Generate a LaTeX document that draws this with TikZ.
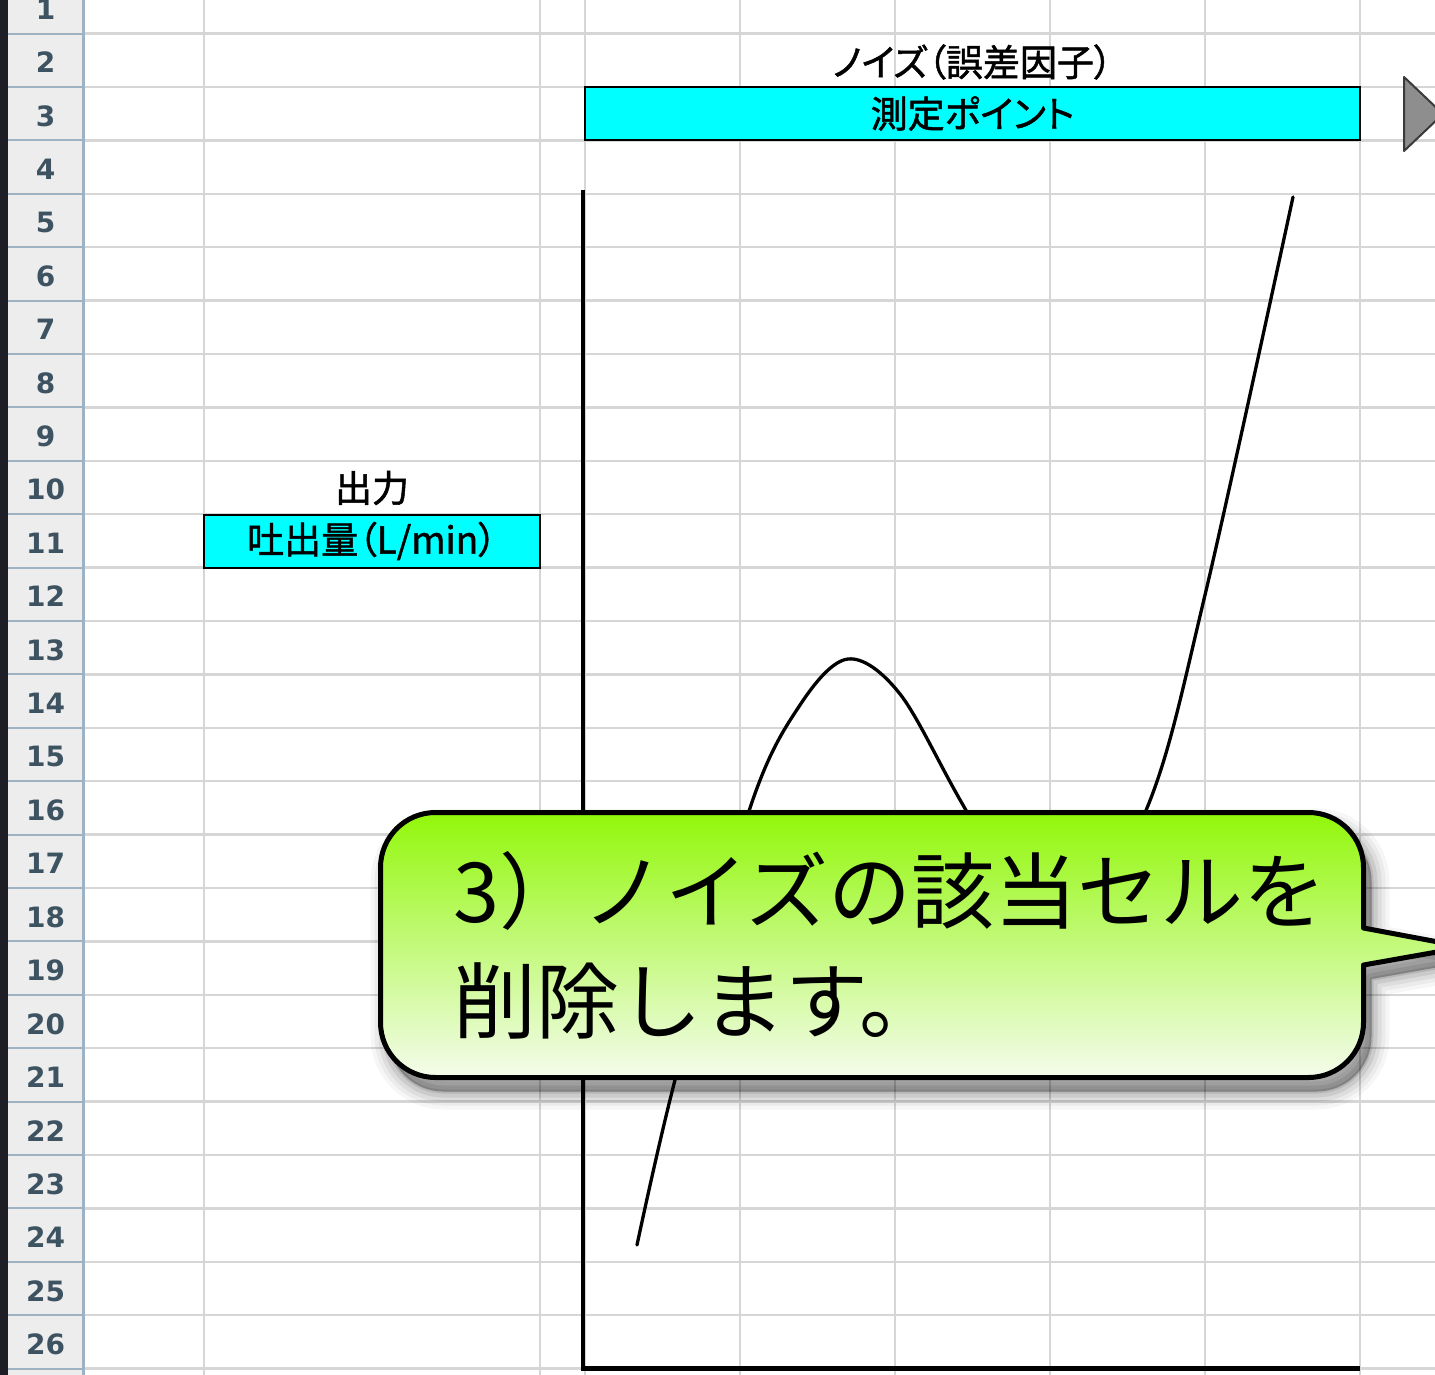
\documentclass[tikz,border=0pt]{standalone}
\usepackage{fontspec}
\newfontfamily\jpcell[RawFeature=+palt, FakeBold=1.3]{Noto Sans CJK JP}
\newfontfamily\jpbig{Noto Sans CJK JP}
\newfontfamily\hdrfont{DejaVu Sans}
\definecolor{gridgray}{HTML}{D6D6D6}
\definecolor{hdrfill}{HTML}{EDEDED}
\definecolor{hdrblue}{HTML}{9DB3C3}
\definecolor{hdrtext}{HTML}{3E5361}
\definecolor{stripcol}{HTML}{1E1E26}
\definecolor{cellcyan}{HTML}{00FFFF}
\definecolor{trifill}{HTML}{8E8E8E}
\definecolor{tridraw}{HTML}{3A3A3A}
\definecolor{calltop}{HTML}{92F70A}
\definecolor{callbot}{HTML}{F4FCEC}
\tikzset{
  gridline/.style={draw=gridgray, line width=2.5pt},
  hdrline/.style={draw=hdrblue, line width=2pt},
  celltext/.style={font=\jpcell\fontsize{37}{44}\selectfont, inner sep=0pt, text=black},
  cellbox/.style={celltext, draw=black, line width=2pt, fill=cellcyan},
  rowlabel/.style={font=\hdrfont\bfseries\fontsize{28}{30}\selectfont, text=hdrtext, inner sep=0pt},
  callouttext/.style={font=\jpbig\fontsize{83}{110}\selectfont, anchor=base west, inner sep=0pt, text=black},
  calloutshape/.style={insert path={(1363.5,-928) -- (1465,-947) -- (1363.5,-965) -- (1363.5,-1022.5)
     arc[start angle=0,end angle=-90,radius=55] -- (435.5,-1077.5)
     arc[start angle=270,end angle=180,radius=55] -- (380.5,-867.5)
     arc[start angle=180,end angle=90,radius=55] -- (1308.5,-812.5)
     arc[start angle=90,end angle=0,radius=55] -- cycle}}
}
\begin{document}
\begin{tikzpicture}[x=1pt,y=1pt]
\useasboundingbox (0,0) rectangle (1435,-1375);
\fill[white] (0,0) rectangle (1435,-1375);
% row header
\fill[hdrfill] (8,0) rectangle (83,-1375);
\fill[stripcol] (0,0) rectangle (8,-1375);
% grid
\foreach \x in {204,540,585,740,895,1050,1205,1360}
  \draw[gridline] (\x,0) -- (\x,-1375);
\foreach \k in {2,...,27}{
  \pgfmathsetmacro\yy{-(87+(\k-3)*53.4)}
  \draw[gridline] (83,\yy) -- (1435,\yy);
  \draw[hdrline] (8,\yy) -- (83,\yy);
}
\draw[draw=hdrblue, line width=3pt] (83,0) -- (83,-1375);
\foreach \n in {1,...,26}{
  \pgfmathsetmacro\yy{-(87+(\n-3)*53.4+29)}
  \node[rowlabel] (row\n) at (45.5,\yy) {\n};
}
% cells
\node[celltext] (noise) at (972.5,-62) {ノイズ（誤差因子）};
\node[cellbox, minimum width=775pt, minimum height=53pt] (meas) at (972.5,-113.5) {測定ポイント};
\node[celltext] (outlbl) at (372,-488) {出力};
\node[cellbox, minimum width=336pt, minimum height=53pt] (flow) at (372,-541) {吐出量（L/min）};
% triangle
\draw[fill=trifill, draw=tridraw, line width=2pt, line join=round] (1404,-77) -- (1443,-114) -- (1404,-151) -- cycle;
% axes
\draw[line width=4.5pt] (583,-190) -- (583,-1368.5) -- (1360,-1368.5);
% curve
\draw[line width=3.3pt, line cap=round] plot[smooth, tension=0.55] coordinates {
 (637,-1245) (675,-1080) (750,-808) (800,-705) (848,-659) (900,-694) (963,-805)
 (1055,-960) (1147,-808) (1205,-595) (1293,-197)};
% shadow
\foreach \w/\o in {36/0.035,28/0.045,20/0.06,12/0.08,4/0.1}{
  \path[shift={(8,-14)}, fill=black, draw=black, line width=\w pt, opacity=\o, line join=round, calloutshape];
}
% callout
\path[draw=black, line width=5pt, line join=round, top color=calltop, bottom color=callbot, calloutshape];
\node[callouttext] (cl1) at (453,-922) {3）ノイズの該当セルを};
\node[callouttext] (cl2) at (453,-1032) {削除します。};
\end{tikzpicture}
\end{document}
